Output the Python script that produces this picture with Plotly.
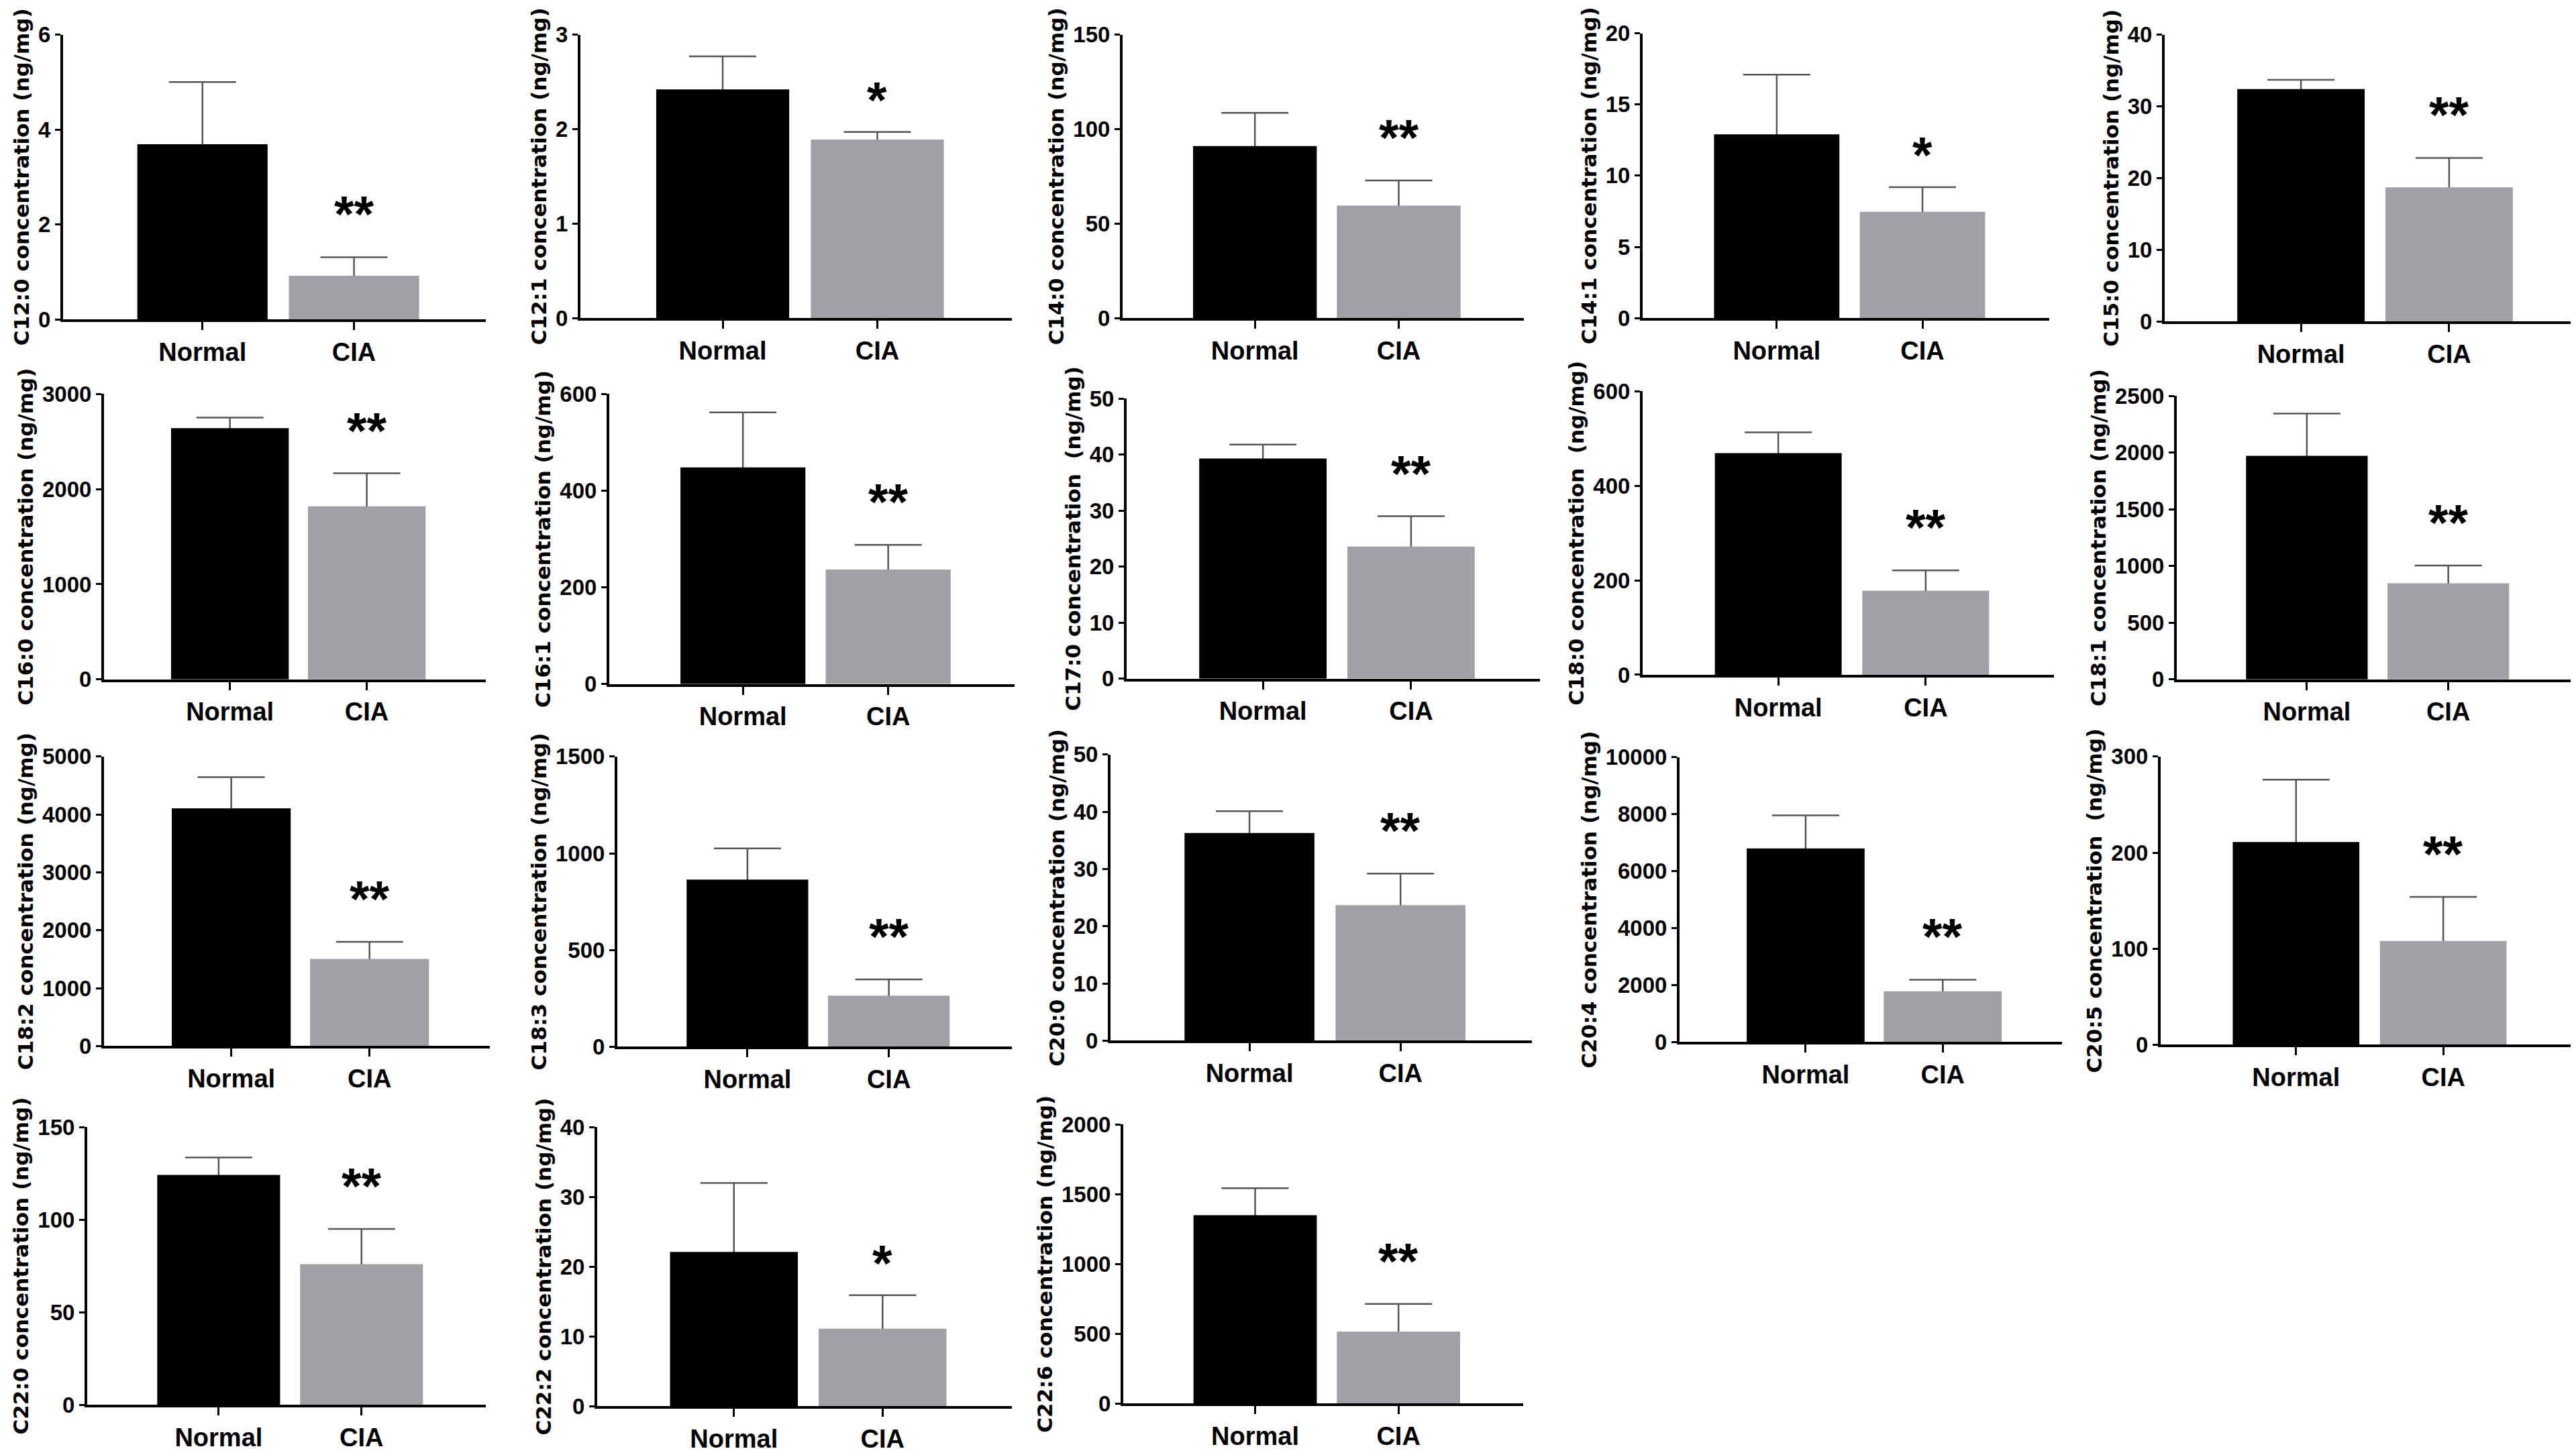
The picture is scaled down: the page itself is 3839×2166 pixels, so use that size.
import plotly.graph_objects as go

# ---------------- data ----------------
fatty_acids = ["C12:0", "C12:1", "C14:0", "C14:1", "C15:0",
               "C16:0", "C16:1", "C17:0", "C18:0", "C18:1",
               "C18:2", "C18:3", "C20:0", "C20:4", "C20:5",
               "C22:0", "C22:2", "C22:6"]
groups = ["Normal", "CIA"]

normal_mean = [3.69, 2.42, 91.0, 12.9, 32.4,
               2640, 448, 39.3, 469, 1972,
               4105, 864, 36.3, 6800, 211,
               124.2, 22.1, 1350]
normal_err = [1.31, 0.35, 17.6, 4.2, 1.3,
              112, 114, 2.5, 44, 373,
              541, 161, 3.8, 1160, 65,
              9.4, 9.9, 193]
cia_mean = [0.92, 1.89, 59.5, 7.46, 18.7,
            1820, 237, 23.6, 178, 848,
            1504, 264, 23.7, 1780, 108,
            76.0, 11.1, 515]
cia_err = [0.39, 0.08, 13.3, 1.74, 4.1,
           346, 51, 5.4, 43, 157,
           297, 84, 5.5, 410, 46,
           19.0, 4.8, 198]
significance = ["**", "*", "**", "*", "**",
                "**", "**", "**", "**", "**",
                "**", "**", "**", "**", "**",
                "**", "*", "**"]
y_max = [6, 3, 150, 20, 40,
         3000, 600, 50, 600, 2500,
         5000, 1500, 50, 10000, 300,
         150, 40, 2000]
y_dtick = [2, 1, 50, 5, 10,
           1000, 200, 10, 200, 500,
           1000, 500, 10, 2000, 100,
           50, 10, 500]
wide_gap = ["C17:0", "C18:0", "C20:5"]

# ---------------- layout geometry (pixels on a 3839 x 2166 page) ----------------
W, H = 3839, 2166
# (y-axis x, x-axis end, top tick y, zero y)
panel_px = [
    (86, 716, 26, 458), (857, 1500, 26, 456), (1665, 2263, 26, 456), (2440, 3046, 24, 456), (3218, 3834, 26, 461),
    (147, 716, 571, 1004), (900, 1504, 571, 1011), (1671, 2287, 578, 1003), (2440, 3053, 567, 997), (3236, 3824, 574, 1004),
    (147, 722, 1121, 1560), (912, 1500, 1121, 1561), (1647, 2275, 1118, 1552), (2495, 3065, 1122, 1554), (3212, 3824, 1121, 1558),
    (122, 716, 1683, 2104), (882, 1500, 1683, 2106), (1666, 2262, 1679, 2102),
]

BLACK = "#000000"
GRAY = "#a0a0a6"
FONT = "Liberation Sans, Arial, sans-serif"
TITLE_FONT = "DejaVu Sans, Liberation Sans, sans-serif"

fig = go.Figure()
layout = dict(
    width=W, height=H,
    margin=dict(l=0, r=0, t=0, b=0),
    paper_bgcolor="white", plot_bgcolor="white",
    showlegend=False,
    barmode="overlay",
    font=dict(family=FONT, color="black"),
)
annotations = []

for i, name in enumerate(fatty_acids):
    k = i + 1
    xa = "x" if k == 1 else f"x{k}"
    ya = "y" if k == 1 else f"y{k}"
    x0, x1, yt, y0 = panel_px[i]
    means = [normal_mean[i], cia_mean[i]]
    errs = [normal_err[i], cia_err[i]]

    # error bars (drawn first, on transparent bars) -> lower half hidden by the real bars
    fig.add_trace(go.Bar(
        x=groups, y=means,
        marker=dict(color="rgba(0,0,0,0)", line=dict(width=0)),
        width=0.86,
        error_y=dict(type="data", symmetric=True, array=errs,
                     color="#555555", thickness=2.5, width=50),
        xaxis=xa, yaxis=ya, hoverinfo="skip",
    ))
    # visible bars on top
    fig.add_trace(go.Bar(
        x=groups, y=means,
        marker=dict(color=[BLACK, GRAY], line=dict(width=0)),
        width=0.86,
        xaxis=xa, yaxis=ya, hoverinfo="skip",
    ))

    sep = "\u00a0\u00a0" if name in wide_gap else " "
    title = f"{name} concentration{sep}(ng/mg)"

    layout["xaxis" if k == 1 else f"xaxis{k}"] = dict(
        domain=[x0 / W, x1 / W],
        anchor=ya,
        type="category",
        range=[-0.92, 1.87],
        showline=True, linecolor="black", linewidth=4,
        ticks="outside", ticklen=12, tickwidth=3, tickcolor="black",
        tickfont=dict(family=FONT, size=38, weight="bold", color="black"),
        showgrid=False, zeroline=False, fixedrange=True,
    )
    layout["yaxis" if k == 1 else f"yaxis{k}"] = dict(
        domain=[1 - y0 / H, 1 - yt / H],
        anchor=xa,
        range=[0, y_max[i]],
        tick0=0, dtick=y_dtick[i], tickformat="d",
        showline=True, linecolor="black", linewidth=4,
        ticks="outside", ticklen=8, tickwidth=3, tickcolor="black",
        tickfont=dict(family=FONT, size=33, weight="bold", color="black"),
        title=dict(text=title, standoff=5,
                   font=dict(family=TITLE_FONT, size=31, weight="bold", color="black")),
        showgrid=False, zeroline=False, fixedrange=True,
    )

    annotations.append(dict(
        x="CIA", y=cia_mean[i] + cia_err[i],
        xref=xa, yref=ya,
        text=significance[i], showarrow=False,
        xanchor="center", yanchor="bottom",
        yshift=20 if significance[i] == "**" else 4,
        font=dict(family=FONT, size=76, weight="bold", color="black"),
    ))

layout["annotations"] = annotations
fig.update_layout(**layout)

fig.write_html("out.html")
